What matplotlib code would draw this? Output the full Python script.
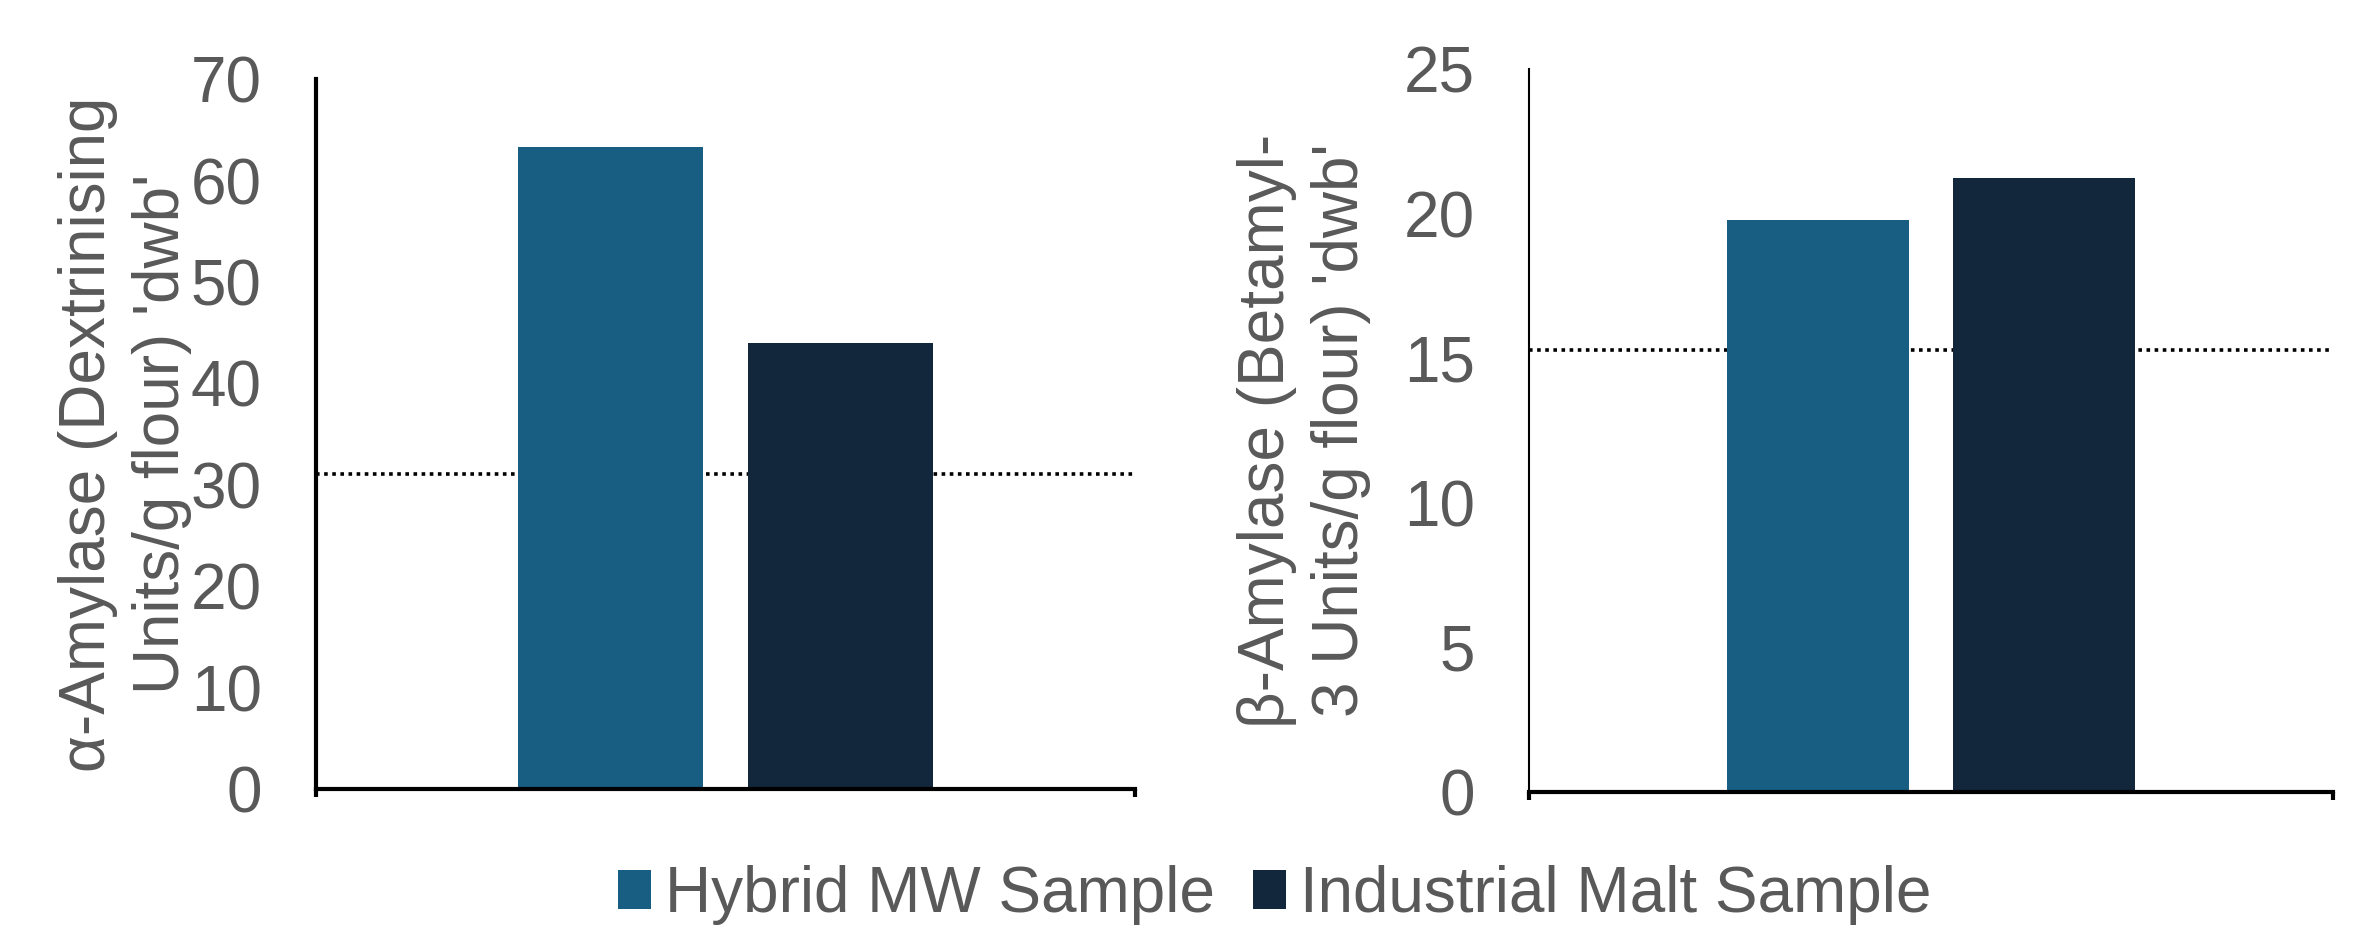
import matplotlib
matplotlib.use("Agg")
import matplotlib.pyplot as plt
from matplotlib.patches import Patch

plt.rcParams['font.family'] = ['Liberation Sans', 'DejaVu Sans']

# Data
samples = ["Hybrid MW Sample", "Industrial Malt Sample"]
alpha_values = [63.3, 44.0]          # Dextrinising Units/g flour (dwb)
beta_values = [19.8, 21.25]          # Betamyl-3 Units/g flour (dwb)
alpha_reference = 31.1
beta_reference = 15.3
alpha_ticks = [0, 10, 20, 30, 40, 50, 60, 70]
beta_ticks = [0, 5, 10, 15, 20, 25]
alpha_label = "α-Amylase (Dextrinising\nUnits/g flour) 'dwb'"
beta_label = "β-Amylase (Betamyl-\n3 Units/g flour) 'dwb'"

colors = ["#175E82", "#12273B"]
text_color = "#595959"
fs = 46

fig = plt.figure(figsize=(23.53, 9.25), dpi=100)
ax1 = fig.add_axes([0.1343, 0.1470, 0.3481, 0.7673])
ax2 = fig.add_axes([0.6498, 0.1438, 0.3417, 0.7813])

bar_w = 0.226
offsets = [-0.1405, 0.1405]


def draw_panel(ax, values, ref, ticks, label, left_lw, label_x):
    for off, v, c in zip(offsets, values, colors):
        ax.bar(off, v, width=bar_w, color=c, zorder=2)
    ax.axhline(ref, color="black", lw=2.6, ls=(0, (1, 1.25)), zorder=1)
    ax.set_xlim(-0.5, 0.5)
    ax.set_ylim(ticks[0], ticks[-1])
    ax.set_yticks(ticks)
    ax.set_yticklabels([str(t) for t in ticks])
    ax.set_xticks([-0.5, 0.5])
    ax.set_xticklabels([])
    ax.tick_params(axis="y", length=0, pad=39, labelsize=fs, labelcolor=text_color)
    ax.tick_params(axis="x", length=6, width=3, direction="out", color="black")
    for s in ("top", "right"):
        ax.spines[s].set_visible(False)
    ax.spines["left"].set_linewidth(left_lw)
    ax.spines["bottom"].set_linewidth(3)
    ax.spines["left"].set_zorder(3)
    ax.spines["bottom"].set_zorder(3)
    ax.set_ylabel(label, fontsize=fs, color=text_color, linespacing=1.28)
    ax.yaxis.set_label_coords(label_x, 0.5)


draw_panel(ax1, alpha_values, alpha_reference, alpha_ticks, alpha_label, 3, -0.152)
draw_panel(ax2, beta_values, beta_reference, beta_ticks, beta_label, 1.5, -0.197)

handles = [Patch(facecolor=c, edgecolor="none") for c in colors]
fig.legend(handles, samples, loc="lower center", bbox_to_anchor=(0.5417, 0.0),
           ncol=2, frameon=False, fontsize=fs, labelcolor=text_color,
           handlelength=0.52, handleheight=0.58, handletextpad=0.21,
           columnspacing=0.6, borderpad=0, borderaxespad=0)

fig.savefig("out.png", dpi=100)
